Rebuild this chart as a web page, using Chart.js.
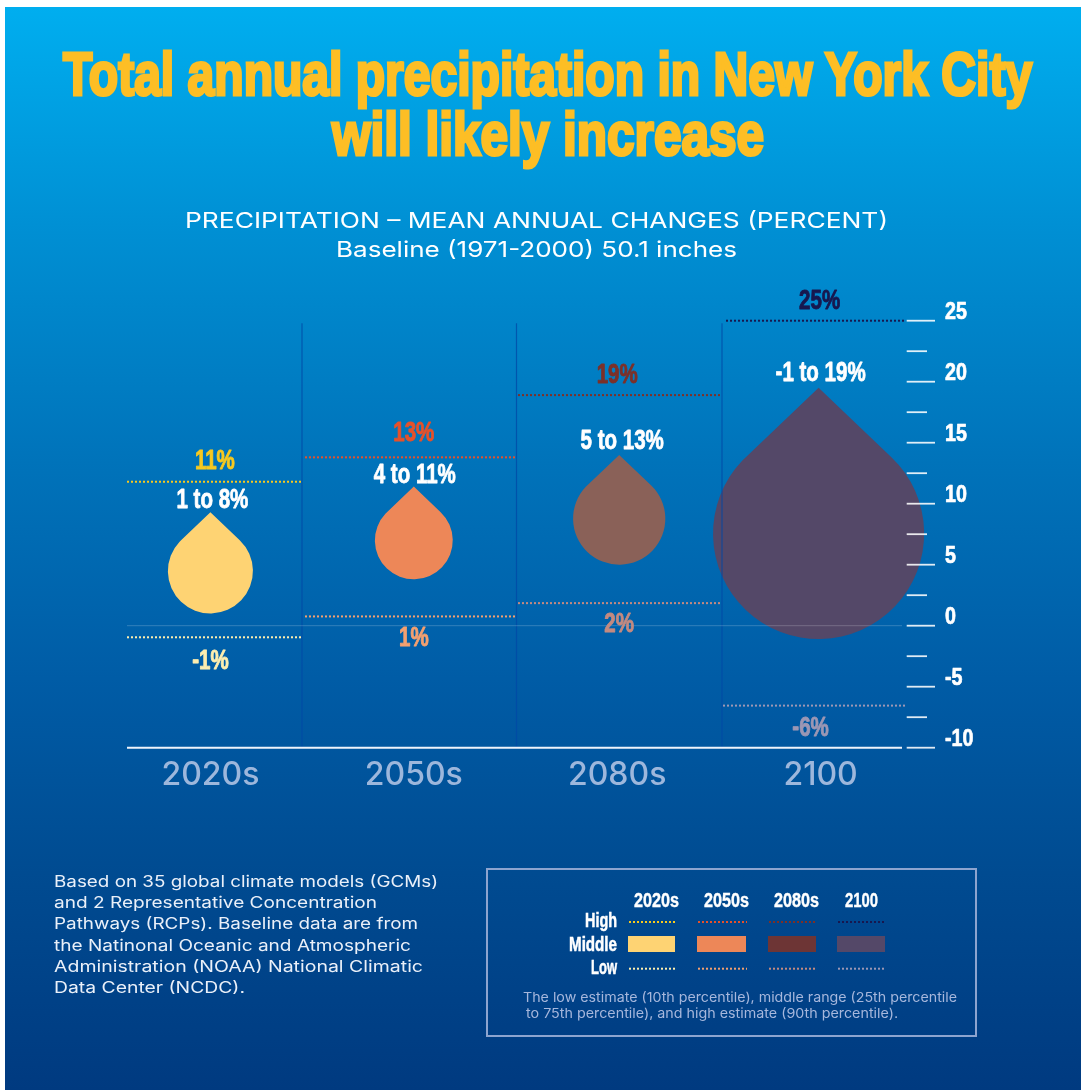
<!DOCTYPE html>
<html><head><meta charset="utf-8">
<script src="https://cdn.jsdelivr.net/npm/chart.js@4"></script>
<style>
html,body{margin:0;padding:0;background:#fff;width:1081px;height:1090px;overflow:hidden}
#bg{position:absolute;left:5px;top:7px;width:1076px;height:1083px;
background:linear-gradient(180deg,#00aeef 0%,#0090d4 20%,#0073ba 42%,#005ca6 62%,#004b91 80%,#003a80 100%)}
canvas{position:absolute;left:0;top:0}
.t{position:absolute;white-space:nowrap;transform-origin:0 50%}
#box{position:absolute;left:486px;top:868px;width:487px;height:165px;border:2px solid #8da4cf}
.sw{position:absolute}
</style></head><body>
<div id="bg"></div>
<div id="box"></div>
<canvas id="c" width="1081" height="1090"></canvas>
<script>
const categories = ['2020s','2050s','2080s','2100'];
const highValues = [11.8, 13.8, 18.9, 25];
const lowValues = [-0.95, 0.76, 1.85, -6.55];
const middleLow = [1, 3.8, 5, -1.1];
const middleHigh = [9.3, 11.4, 14, 19.5];
const highLabels = ['11%','13%','19%','25%'];
const lowLabels = ['-1%','1%','2%','-6%'];
const rangeLabels = ['1 to 8%','4 to 11%','5 to 13%','-1 to 19%'];
const highColors = ['#f7c91f','#e6512a','#7c3028','#17174f'];
const lowColors = ['#fdeeb0','#f3a070','#c48a80','#9c97b4'];
const dropColors = ['#fed373','#ed8758','#8a6158','#544868'];
const legendDropColors = ['#fed373','#ed8758','#6d3535','#544868'];
const yTicks = {min:-10,max:25,step:2.5};
const titleLines = ['Total annual precipitation in New York City','will likely increase'];
const subtitleLines = ['PRECIPITATION – MEAN ANNUAL CHANGES (PERCENT)','Baseline (1971-2000) 50.1 inches'];
const noteLines = ['Based on 35 global climate models (GCMs)','and 2 Representative Concentration','Pathways (RCPs). Baseline data are from','the Natinonal Oceanic and Atmospheric','Administration (NOAA) National Climatic','Data Center (NCDC).'];
const legendNote = ['The low estimate (10th percentile), middle range (25th percentile','to 75th percentile), and high estimate (90th percentile).'];
const legendRows = ['High','Middle','Low'];

const HEAVY = '"Liberation Sans"';
const meas = document.createElement('canvas').getContext('2d');
function place(text,o){
  const w0 = (o.weight||400)+' '+o.size+'px '+o.font;
  meas.font = w0;
  const m = meas.measureText(text);
  const asc=m.fontBoundingBoxAscent, desc=m.fontBoundingBoxDescent;
  const el=document.createElement('div');
  el.className='t'; el.textContent=text;
  el.style.font=w0; el.style.lineHeight=(asc+desc)+'px';
  el.style.color=o.color; el.style.top=(o.base-asc)+'px';
  if(o.stroke) el.style.webkitTextStroke=o.stroke+'px '+o.color;
  const sx=o.w? o.w/m.width : (o.sx||1);
  const width=m.width*sx;
  let left=o.x; if(o.cx!==undefined) left=o.cx-width/2; if(o.rx!==undefined) left=o.rx-width;
  el.style.left=left+'px';
  el.style.transform='scaleX('+sx+')';
  document.body.appendChild(el);
}
const TITLE_FONT={font:HEAVY,weight:700,color:'#fdbe25',stroke:3.2,size:62};
place(titleLines[0],{...TITLE_FONT,x:63,w:970,base:95});
place(titleLines[1],{...TITLE_FONT,x:332,w:432,base:155});
const INTER='Inter';
place(subtitleLines[0],{font:INTER,size:22,color:'#fff',x:185,w:703,base:228});
place(subtitleLines[1],{font:INTER,size:22,color:'#fff',x:336,w:401,base:257});
const noteX=[438,377,418,411,423,245], noteBase=[887,908,929,951,972,993];
noteLines.forEach((l,i)=>place(l,{font:INTER,size:15.5,color:'#eaf0f9',x:54,w:noteX[i]-54,base:noteBase[i]}));
// legend
const legHead=[656.7,726.7,796.7,861], legSwL=[628,697,768,837], legSwR=[675,746,816,885];
categories.forEach((c,i)=>{
  place(c,{font:HEAVY,weight:700,size:20,color:'#fff',cx:legHead[i],w:c.length>4?45:33,base:906.7,stroke:.4});
  const s=document.createElement('div');s.className='sw';
  s.style.cssText='left:'+legSwL[i]+'px;top:936px;width:'+(legSwR[i]-legSwL[i])+'px;height:16px;background:'+legendDropColors[i];
  document.body.appendChild(s);
});
const rowW=[32,48,26],rowBase=[926.7,950.7,974];
legendRows.forEach((r,i)=>place(r,{font:HEAVY,weight:700,size:20,color:'#fff',rx:617,w:rowW[i],base:rowBase[i],stroke:.5}));
place(legendNote[0],{font:INTER,size:13.5,color:'#a6b7dc',x:522.5,w:434,base:1002});
place(legendNote[1],{font:INTER,size:13.5,color:'#a6b7dc',x:526,w:372,base:1018});

function canvasText(ctx,text,x,y,size,color,sx,stroke,align){
  ctx.save();
  ctx.translate(x,y);ctx.scale(sx,1);
  ctx.font='700 '+size+'px '+HEAVY;
  ctx.textAlign=align||'center';ctx.textBaseline='middle';
  ctx.fillStyle=color;
  if(stroke){ctx.strokeStyle=color;ctx.lineWidth=stroke;ctx.lineJoin='round';ctx.strokeText(text,0,0);}
  ctx.fillText(text,0,0);
  ctx.restore();
}
const sectionEdges=[[127,301],[305,516],[518,720],[726,904]];
const dividers=[302,516.5,722];
const bandNudge=[0,0,2,-2];
// small hand offsets of the value labels, [dx,dy] in pixels
const highNudge=[[4.5,0],[0,-3.5],[0,.5],[-1,1]];
const lowNudge=[[0,3],[0,1],[2,0],[-10,2]];
const rangeNudge=[[2,3],[1,3],[5,1],[0,0]];
const dropPlugin={
  id:'drops',
  beforeDatasetDraw(chart,args){
    if(args.index!==0) return;
    const ctx=chart.ctx;
    args.meta.data.forEach((el,i)=>{
      const top=el.y,bot=el.base,h=bot-top;
      const r=h*0.42,cy=bot-r,x=el.x+bandNudge[i],d=cy-top;
      const tang=Math.acos(r/d);
      ctx.save();ctx.fillStyle=dropColors[i];
      ctx.beginPath();ctx.moveTo(x,top);
      ctx.arc(x,cy,r,-Math.PI/2+tang,-Math.PI/2-tang,false);
      ctx.closePath();ctx.fill();ctx.restore();
    });
    return false;
  },
  afterDatasetsDraw(chart){
    const ctx=chart.ctx,y=chart.scales.y;
    ctx.save();
    ctx.strokeStyle='rgba(0,72,165,.75)';ctx.lineWidth=1.2;
    dividers.forEach(x=>{ctx.beginPath();ctx.moveTo(x,y.getPixelForValue(24.8));ctx.lineTo(x,y.getPixelForValue(-10));ctx.stroke();});
    ctx.strokeStyle='rgba(255,255,255,.2)';ctx.lineWidth=1;
    ctx.beginPath();ctx.moveTo(127,y.getPixelForValue(0));ctx.lineTo(902,y.getPixelForValue(0));ctx.stroke();
    ctx.strokeStyle='#eef3fb';ctx.lineWidth=2;
    ctx.beginPath();ctx.moveTo(127,y.getPixelForValue(-10));ctx.lineTo(902,y.getPixelForValue(-10));ctx.stroke();
    y.ticks.forEach(t=>{
      const p=y.getPixelForValue(t.value),major=t.value%5===0;
      ctx.strokeStyle='rgba(255,255,255,.88)';ctx.lineWidth=1.8;
      ctx.beginPath();ctx.moveTo(906.7,p);ctx.lineTo(major?935:927,p);ctx.stroke();
      if(major) canvasText(ctx,t.label,945,p-8,24,'#fff',.82,.7,'left');
    });
    const hi=chart.getDatasetMeta(1).data,lo=chart.getDatasetMeta(2).data,dr=chart.getDatasetMeta(0).data;
    hi.forEach((pt,i)=>{
      ctx.setLineDash([2,2]);ctx.lineWidth=2;
      ctx.strokeStyle=highColors[i];
      ctx.beginPath();ctx.moveTo(sectionEdges[i][0],pt.y);ctx.lineTo(sectionEdges[i][1],pt.y);ctx.stroke();
      ctx.strokeStyle=lowColors[i];
      ctx.beginPath();ctx.moveTo(sectionEdges[i][0]-(i==3?3:0),lo[i].y);ctx.lineTo(sectionEdges[i][1]+(i==3?2:0),lo[i].y);ctx.stroke();
      ctx.strokeStyle=highColors[i];
      ctx.beginPath();ctx.moveTo(legSwL[i]+1,922);ctx.lineTo(legSwR[i]+1,922);ctx.stroke();
      ctx.strokeStyle=lowColors[i];
      ctx.beginPath();ctx.moveTo(legSwL[i]+1,968.7);ctx.lineTo(legSwR[i]+1,968.7);ctx.stroke();
      ctx.setLineDash([]);
      canvasText(ctx,highLabels[i],pt.x+highNudge[i][0],pt.y-20+highNudge[i][1],27,highColors[i],.76,.9);
      canvasText(ctx,lowLabels[i],lo[i].x+lowNudge[i][0],lo[i].y+21+lowNudge[i][1],27,lowColors[i],.76,.9);
      canvasText(ctx,rangeLabels[i],dr[i].x+rangeNudge[i][0],dr[i].y-14.5+rangeNudge[i][1],27,'#fff',.76,.8);
    });
    ctx.restore();
  }
};
new Chart(document.getElementById('c'),{
  type:'bar',
  plugins:[dropPlugin],
  data:{labels:categories,datasets:[
    {label:'Middle',type:'bar',data:categories.map((c,i)=>[middleLow[i],middleHigh[i]]),backgroundColor:dropColors},
    {label:'High',type:'line',data:highValues,showLine:false,pointRadius:0,borderColor:highColors[0]},
    {label:'Low',type:'line',data:lowValues,showLine:false,pointRadius:0,borderColor:lowColors[0]}
  ]},
  options:{
    responsive:false,animation:false,
    layout:{padding:{left:108.7,top:320.7,right:98.7,bottom:302.3}},
    plugins:{legend:{display:false},tooltip:{enabled:false},title:{display:false}},
    scales:{
      x:{grid:{display:false,drawTicks:false},border:{display:false},
         afterFit(s){s.height=40;},
         ticks:{color:'#9db7dc',padding:8,font:{family:'Inter',size:32,weight:500},maxRotation:0}},
      y:{position:'right',min:yTicks.min,max:yTicks.max,
         grid:{display:false,drawTicks:false},border:{display:false},
         afterFit(s){s.width=60;},
         afterBuildTicks(s){const v=[];for(let t=yTicks.min;t<=yTicks.max;t+=yTicks.step)v.push({value:t});s.ticks=v;},
         ticks:{display:false,autoSkip:false,callback:v=>v%5===0?String(v):''}}
    }
  }
});
</script></body></html>
